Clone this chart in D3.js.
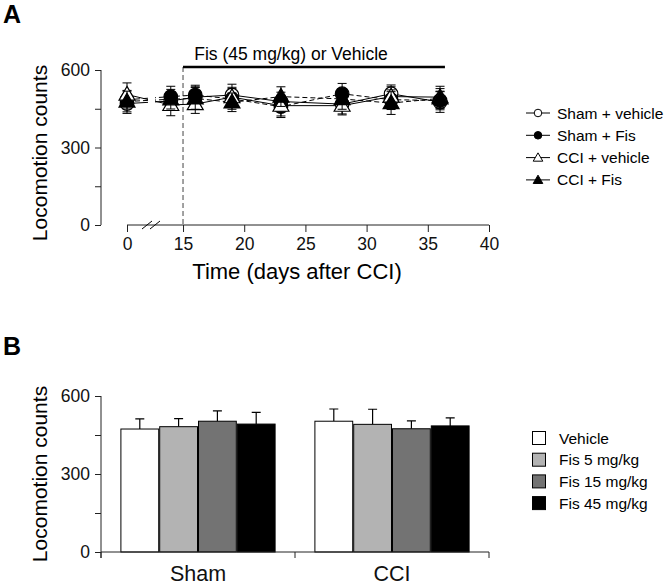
<!DOCTYPE html>
<html>
<head>
<meta charset="utf-8">
<script src="https://cdn.jsdelivr.net/npm/d3@7"></script>
<style>
  body { margin: 0; background: #fff; }
  svg { display: block; font-family: "Liberation Sans", Arial, sans-serif; }
</style>
</head>
<body>
<svg id="chart" width="666" height="586"></svg>
<script>
// ---- panel A data (locomotion over time) ----
const days = [0, 14, 16, 19, 23, 28, 32, 36];
const groupNames = ["Sham + vehicle", "Sham + Fis", "CCI + vehicle", "CCI + Fis"];
const shamVehicle = [470, 480, 495, 503, 478, 468, 508, 476];
const shamFis = [485, 497, 503, 488, 458, 508, 485, 482];
const cciVehicle = [505, 465, 468, 495, 462, 462, 497, 495];
const cciFis = [478, 487, 490, 475, 497, 488, 472, 490];
const shamVehicleSe = [38, 35, 40, 42, 36, 38, 34, 40];
const shamFisSe = [36, 40, 38, 40, 42, 40, 38, 36];
const cciVehicleSe = [45, 42, 36, 38, 40, 36, 38, 42];
const cciFisSe = [40, 38, 42, 36, 38, 40, 44, 38];
const xTicksA = [0, 15, 20, 25, 30, 35, 40];
const yTicks = [0, 150, 300, 450, 600];
const yLabels = [0, 300, 600];

// ---- panel B data (dose response) ----
const categories = ["Sham", "CCI"];
const doses = ["Vehicle", "Fis 5 mg/kg", "Fis 15 mg/kg", "Fis 45 mg/kg"];
const shamBars = [473, 482, 503, 492];
const cciBars = [503, 491, 474, 485];
const shamBarsSe = [39, 31, 40, 45];
const cciBarsSe = [47, 58, 30, 31];
const doseColors = ["#ffffff", "#b3b3b3", "#737373", "#000000"];

const svg = d3.select("#chart");
const tickFont = 17.5;

// ================= Panel A =================
const series = [
  { name: groupNames[0], values: shamVehicle, se: shamVehicleSe, shape: "circle", fill: "#fff", dash: null },
  { name: groupNames[1], values: shamFis, se: shamFisSe, shape: "circle", fill: "#000", dash: "5,3" },
  { name: groupNames[2], values: cciVehicle, se: cciVehicleSe, shape: "triangle", fill: "#fff", dash: null },
  { name: groupNames[3], values: cciFis, se: cciFisSe, shape: "triangle", fill: "#000", dash: "5,3" },
];

// broken x axis: day 0 sits left of the break, 12..40 is linear
const xA = d3.scaleLinear().domain([0, 12, 40]).range([127, 146.3, 489]);
const yA = d3.scaleLinear().domain([0, 600]).range([225, 70]);

svg.append("text").attr("x", 3).attr("y", 23)
  .attr("font-size", 25).attr("font-weight", "bold").text("A");

// y axis
const yAxisA = svg.append("g").attr("transform", "translate(101,0)")
  .call(d3.axisLeft(yA).tickValues(yTicks).tickSize(6).tickPadding(5)
    .tickFormat(d => yLabels.includes(d) ? d : ""));
yAxisA.select(".domain").attr("d", `M0,${yA(600)}V${yA(0)}`);

// x axis
const xAxisA = svg.append("g").attr("transform", `translate(0,${yA(0)})`)
  .call(d3.axisBottom(xA).tickValues(xTicksA).tickSize(7).tickPadding(6));
xAxisA.select(".domain").attr("d", `M${xA(0)},0H${xA(40)}`);

// axis break marks
svg.append("g").selectAll("line").data([0, 8]).join("line")
  .attr("x1", d => 142 + d).attr("y1", yA(0) + 4)
  .attr("x2", d => 152 + d).attr("y2", yA(0) - 4)
  .attr("stroke", "#000").attr("stroke-width", 1);

[yAxisA, xAxisA].forEach(g => {
  g.attr("font-family", null).attr("font-size", tickFont);
  g.selectAll("text").attr("fill", "#111");
  g.selectAll("line,path").attr("stroke", "#222");
});

// treatment period marker
svg.append("line").attr("x1", xA(15)).attr("x2", xA(15))
  .attr("y1", 67).attr("y2", yA(0))
  .attr("stroke", "#444").attr("stroke-dasharray", "5,3");
svg.append("line").attr("x1", xA(15)).attr("x2", xA(36.4))
  .attr("y1", 67).attr("y2", 67)
  .attr("stroke", "#000").attr("stroke-width", 2.6);
svg.append("text").attr("x", 291).attr("y", 60).attr("text-anchor", "middle")
  .attr("font-size", 17.5).text("Fis (45 mg/kg) or Vehicle");

// titles
svg.append("text").attr("transform", "translate(47,153) rotate(-90)")
  .attr("text-anchor", "middle").attr("font-size", 21).text("Locomotion counts");
svg.append("text").attr("x", 297).attr("y", 279).attr("text-anchor", "middle")
  .attr("font-size", 22).text("Time (days after CCI)");

// clip that cuts the lines at the axis break
const defs = svg.append("defs");
const clip = defs.append("clipPath").attr("id", "breakClip");
clip.append("rect").attr("x", 0).attr("y", 0).attr("width", 148).attr("height", 300);
clip.append("rect").attr("x", 155).attr("y", 0).attr("width", 511).attr("height", 300);

const line = d3.line().x((d, i) => xA(days[i])).y(d => yA(d));
const plot = svg.append("g");

series.forEach(s => {
  plot.append("path").datum(s.values)
    .attr("d", line).attr("fill", "none")
    .attr("stroke", "#000").attr("stroke-width", 1)
    .attr("stroke-dasharray", s.dash)
    .attr("clip-path", "url(#breakClip)");
});

series.forEach(s => {
  const g = plot.append("g");
  const pts = s.values.map((v, i) => ({ x: xA(days[i]), v, se: s.se[i] }));
  g.selectAll(".err").data(pts).join("path")
    .attr("d", d => {
      const t = yA(d.v + d.se), b = yA(d.v - d.se);
      return `M${d.x},${t}V${b}M${d.x - 4.5},${t}H${d.x + 4.5}M${d.x - 4.5},${b}H${d.x + 4.5}`;
    })
    .attr("stroke", "#000").attr("stroke-width", 1).attr("fill", "none");
  const sym = d3.symbol()
    .type(s.shape === "circle" ? d3.symbolCircle : d3.symbolTriangle)
    .size(s.shape === "circle" ? 145 : 110);
  g.selectAll(".mk").data(pts).join("path")
    .attr("transform", d => `translate(${d.x},${yA(d.v) + (s.shape === "circle" ? 0 : 1)})`)
    .attr("d", sym).attr("fill", s.fill)
    .attr("stroke", "#000").attr("stroke-width", 1.2);
});

// legend A
const legA = svg.append("g");
series.forEach((s, i) => {
  const y = 113 + i * 22.3;
  legA.append("line").attr("x1", 526).attr("x2", 550).attr("y1", y).attr("y2", y)
    .attr("stroke", "#000").attr("stroke-width", 1);
  legA.append("path").attr("transform", `translate(538,${y + (s.shape === "circle" ? 0 : 0.8)})`)
    .attr("d", d3.symbol().type(s.shape === "circle" ? d3.symbolCircle : d3.symbolTriangle)
      .size(s.shape === "circle" ? 45 : 40))
    .attr("fill", s.fill).attr("stroke", "#000").attr("stroke-width", 1);
  legA.append("text").attr("x", 557).attr("y", y + 5.5)
    .attr("font-size", 15.5).text(s.name);
});

// ================= Panel B =================
const barData = [shamBars, cciBars];
const barSe = [shamBarsSe, cciBarsSe];

const xB = d3.scaleBand().domain(categories).range([101, 489])
  .paddingInner(0.2).paddingOuter(0.1);
const xSub = d3.scaleBand().domain(doses).range([0, xB.bandwidth()]);
const yB = d3.scaleLinear().domain([0, 600]).range([552, 396]);

svg.append("text").attr("x", 3).attr("y", 355)
  .attr("font-size", 25).attr("font-weight", "bold").text("B");

const groups = svg.append("g").selectAll("g").data(categories).join("g")
  .attr("transform", d => `translate(${xB(d)},0)`);

groups.each(function (cat, ci) {
  const g = d3.select(this);
  const rows = doses.map((dose, di) => ({ dose, di, v: barData[ci][di], se: barSe[ci][di] }));
  g.selectAll("path.err").data(rows).join("path")
    .attr("d", d => {
      const cx = xSub(d.dose) + xSub.bandwidth() / 2;
      const t = yB(d.v + d.se);
      return `M${cx},${yB(d.v)}V${t}M${cx - 4.5},${t}H${cx + 4.5}`;
    })
    .attr("stroke", "#000").attr("stroke-width", 1.2).attr("fill", "none");
  g.selectAll("rect").data(rows).join("rect")
    .attr("x", d => xSub(d.dose) + 0.5)
    .attr("y", d => yB(d.v))
    .attr("width", xSub.bandwidth() - 1)
    .attr("height", d => yB(0) - yB(d.v))
    .attr("fill", d => doseColors[d.di])
    .attr("stroke", "#000").attr("stroke-width", 1);
});

const yAxisB = svg.append("g").attr("transform", "translate(101,0)")
  .call(d3.axisLeft(yB).tickValues(yTicks).tickSize(6).tickPadding(5)
    .tickFormat(d => yLabels.includes(d) ? d : ""));
yAxisB.select(".domain").attr("d", `M0,${yB(600)}V${yB(0) + 6}`);

const xAxisB = svg.append("g").attr("transform", `translate(0,${yB(0)})`)
  .call(d3.axisBottom(xB).tickSize(0).tickPadding(22));
xAxisB.select(".domain").attr("d", "M101,0H489");
xAxisB.selectAll(".brk").data([xB.range()[0], (xB("Sham") + xB("CCI") + xB.bandwidth()) / 2, xB.range()[1]])
  .join("line").attr("class", "brk")
  .attr("x1", d => d).attr("x2", d => d).attr("y1", 0).attr("y2", 6);

[yAxisB, xAxisB].forEach(g => {
  g.attr("font-family", null).attr("font-size", tickFont);
  g.selectAll("text").attr("fill", "#111");
  g.selectAll("line,path").attr("stroke", "#222");
});
xAxisB.selectAll(".tick text").attr("font-size", 21.5).attr("dy", "0.71em").attr("y", 14);

svg.append("text").attr("transform", "translate(47,474) rotate(-90)")
  .attr("text-anchor", "middle").attr("font-size", 21).text("Locomotion counts");

// legend B
const legB = svg.append("g");
doses.forEach((d, i) => {
  const y = 438 + i * 21.7;
  legB.append("rect").attr("x", 532.5).attr("y", y - 6.5).attr("width", 13).attr("height", 13)
    .attr("fill", doseColors[i]).attr("stroke", "#000").attr("stroke-width", 1);
  legB.append("text").attr("x", 559).attr("y", y + 5.5).attr("font-size", 15.5).text(d);
});
</script>
</body>
</html>
